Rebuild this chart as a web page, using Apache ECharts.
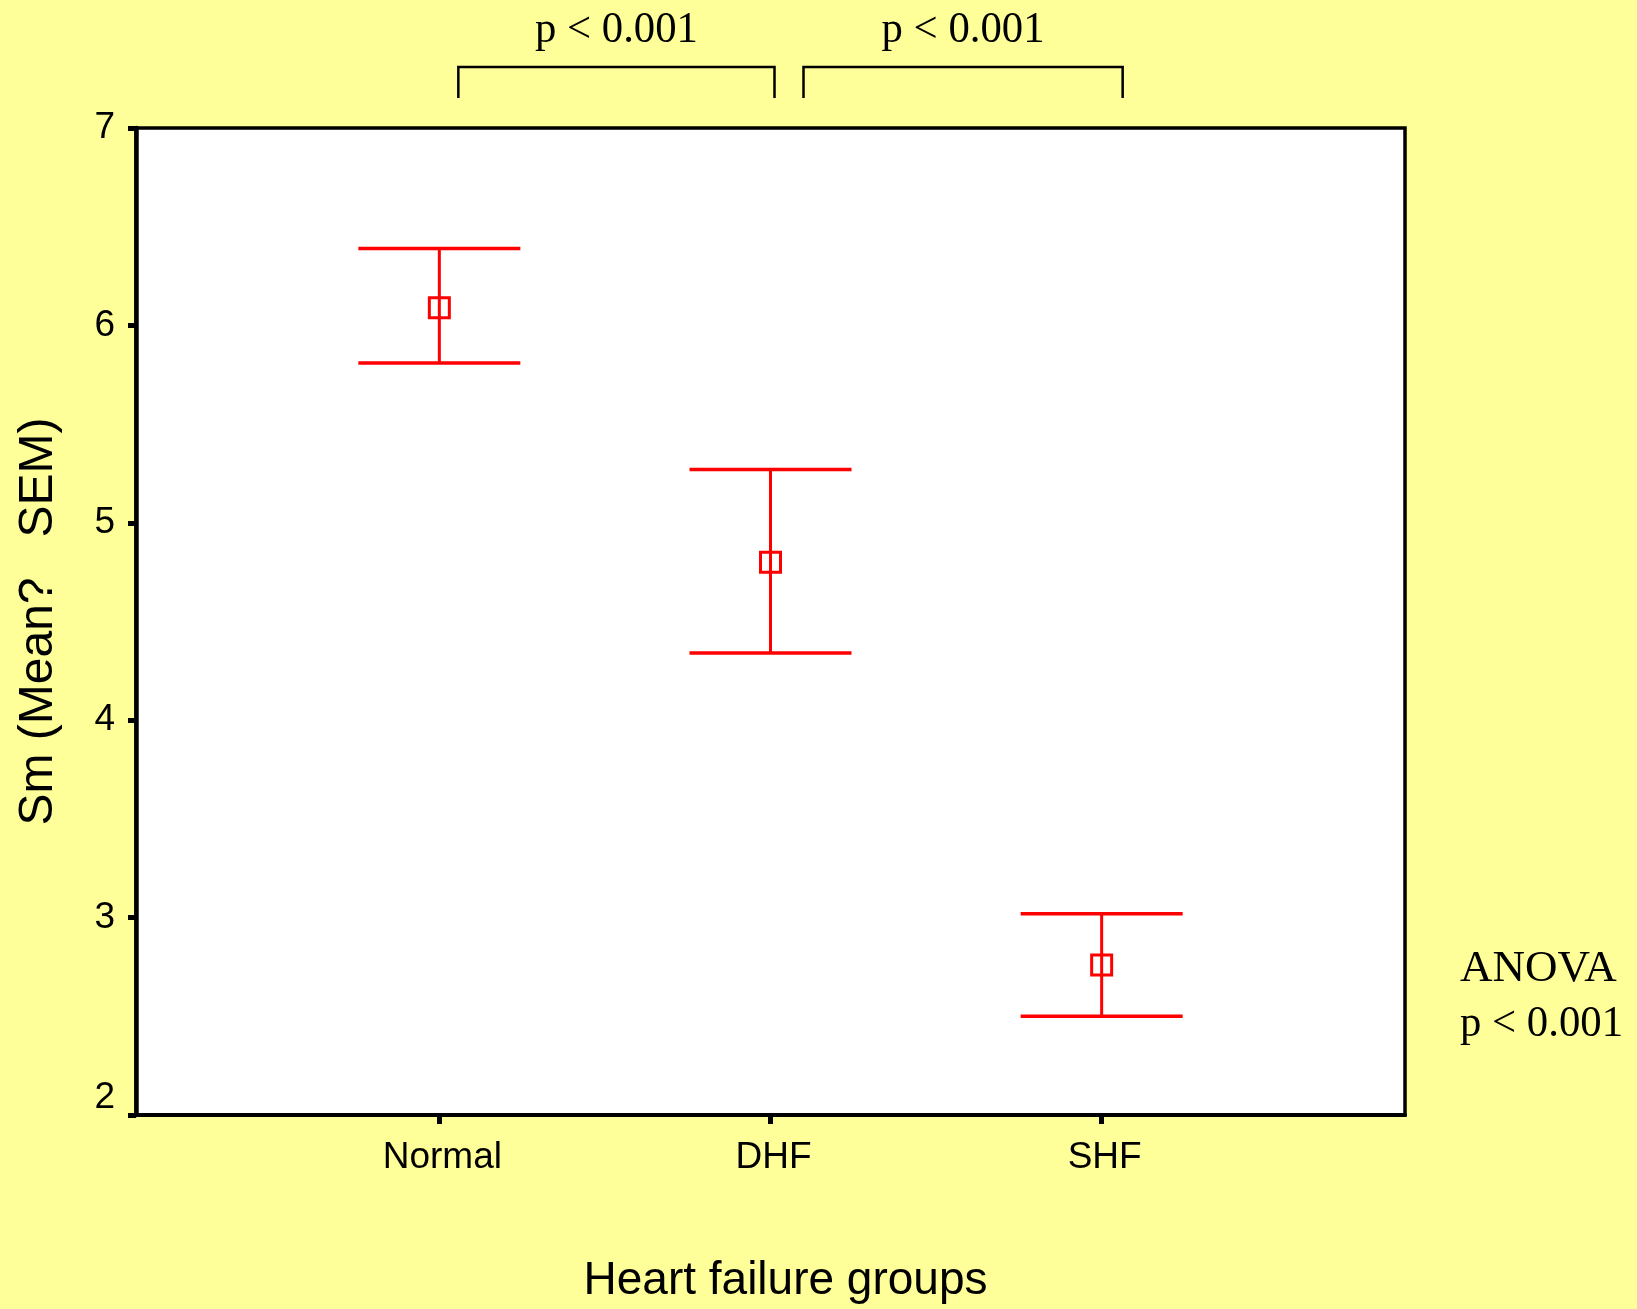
<!DOCTYPE html>
<html>
<head>
<meta charset="utf-8">
<script src="https://cdn.jsdelivr.net/npm/echarts@6/dist/echarts.min.js"></script>
<style>
html,body{margin:0;padding:0;background:#FFFF99;}
#chart{width:1637px;height:1309px;}
</style>
</head>
<body>
<div id="chart"></div>
<script>
// ---- data ----
const categories = ['Normal', 'DHF', 'SHF'];
const means = [6.09, 4.80, 2.76];
const upperSEM = [6.39, 5.27, 3.02];
const lowerSEM = [5.81, 4.34, 2.50];
const yTicks = [2, 3, 4, 5, 6, 7];
const comparisons = [[0, 1, 'p < 0.001'], [1, 2, 'p < 0.001']];
const anovaText = ['ANOVA', 'p < 0.001'];

const errData = categories.map((c, i) => [i + 1, means[i], lowerSEM[i], upperSEM[i]]);

const RED = '#FF0000';
const chart = echarts.init(document.getElementById('chart'), null, {renderer: 'canvas'});

const option = {
  backgroundColor: '#FFFF99',
  animation: false,
  grid: {
    left: 136, right: 232, top: 128, bottom: 193,
    show: true, backgroundColor: '#FFFFFF', borderColor: '#000', borderWidth: 3.5
  },
  xAxis: {
    type: 'value', min: 0.084, max: 3.916,
    name: 'Heart failure groups', nameLocation: 'middle', nameGap: 143,
    nameTextStyle: {fontFamily: 'Liberation Sans', fontSize: 46, color: '#000', padding: [0, 0, 0, 30]},
    axisLine: {show: true, lineStyle: {color: '#000', width: 4}},
    axisTick: {show: true, customValues: [1, 2, 3], length: 9, lineStyle: {color: '#000', width: 5}},
    axisLabel: {
      customValues: [1, 2, 3], margin: 24, padding: [0, 0, 0, 6],
      fontFamily: 'Liberation Sans', fontSize: 37, color: '#000',
      formatter: v => categories[Math.round(v) - 1] || ''
    },
    splitLine: {show: false}
  },
  yAxis: {
    type: 'value', min: yTicks[0], max: yTicks[yTicks.length - 1], interval: 1,
    name: 'Sm (Mean?   SEM)', nameLocation: 'middle', nameGap: 73,
    nameTextStyle: {fontFamily: 'Liberation Sans', fontSize: 48, color: '#000'},
    axisLine: {show: true, lineStyle: {color: '#000', width: 4.5}},
    axisTick: {show: true, length: 8, lineStyle: {color: '#000', width: 5}},
    axisLabel: {
      margin: 21, fontFamily: 'Liberation Sans', fontSize: 37, color: '#000',
      formatter: v => v === yTicks[0] ? '{low|' + v + '}' : '{n|' + v + '}',
      rich: {
        n: {fontFamily: 'Liberation Sans', fontSize: 37, color: '#000'},
        low: {fontFamily: 'Liberation Sans', fontSize: 37, color: '#000', padding: [0, 0, 34, 0]}
      }
    },
    splitLine: {show: false}
  },
  series: [{
    type: 'custom',
    data: errData,
    encode: {x: 0, y: [1, 2, 3]},
    renderItem: function (params, api) {
      const x = api.value(0);
      const pm = api.coord([x, api.value(1)]);
      const pl = api.coord([x, api.value(2)]);
      const ph = api.coord([x, api.value(3)]);
      const hw = 81, s = 10;
      const ls = {stroke: RED, lineWidth: 3.5};
      return {
        type: 'group',
        children: [
          {type: 'line', shape: {x1: pm[0], y1: pl[1], x2: pm[0], y2: ph[1]}, style: {stroke: RED, lineWidth: 3}},
          {type: 'line', shape: {x1: pm[0] - hw, y1: ph[1], x2: pm[0] + hw, y2: ph[1]}, style: ls},
          {type: 'line', shape: {x1: pm[0] - hw, y1: pl[1], x2: pm[0] + hw, y2: pl[1]}, style: ls},
          {type: 'rect', shape: {x: pm[0] - s, y: pm[1] - s, width: 2 * s, height: 2 * s}, style: {stroke: RED, fill: 'none', lineWidth: 3}}
        ]
      };
    }
  }]
};
chart.setOption(option);

// annotations: brackets above plot and ANOVA note
const toPx = v => chart.convertToPixel({xAxisIndex: 0}, v);
const bracketOffsets = [[19, 4], [33, 21]];
const graphics = [];
comparisons.forEach((c, k) => {
  const x1 = toPx(c[0] + 1) + bracketOffsets[k][0];
  const x2 = toPx(c[1] + 1) + bracketOffsets[k][1];
  graphics.push({
    type: 'polyline', silent: true,
    shape: {points: [[x1, 98], [x1, 67], [x2, 67], [x2, 98]]},
    style: {stroke: '#000', lineWidth: 2.5, fill: 'none'}
  });
  graphics.push({
    type: 'text', silent: true, x: (x1 + x2) / 2, y: 30, scaleX: 0.95,
    style: {text: c[2], font: '45px "Liberation Serif"', fill: '#000', align: 'center', verticalAlign: 'middle'}
  });
});
const anovaScale = [1.0, 0.95];
anovaText.forEach((t, i) => {
  graphics.push({
    type: 'text', silent: true, x: 1460, y: 969 + i * 55, scaleX: anovaScale[i],
    style: {text: t, font: '45px "Liberation Serif"', fill: '#000', align: 'left', verticalAlign: 'middle'}
  });
});
chart.setOption({graphic: graphics});
</script>
</body>
</html>
